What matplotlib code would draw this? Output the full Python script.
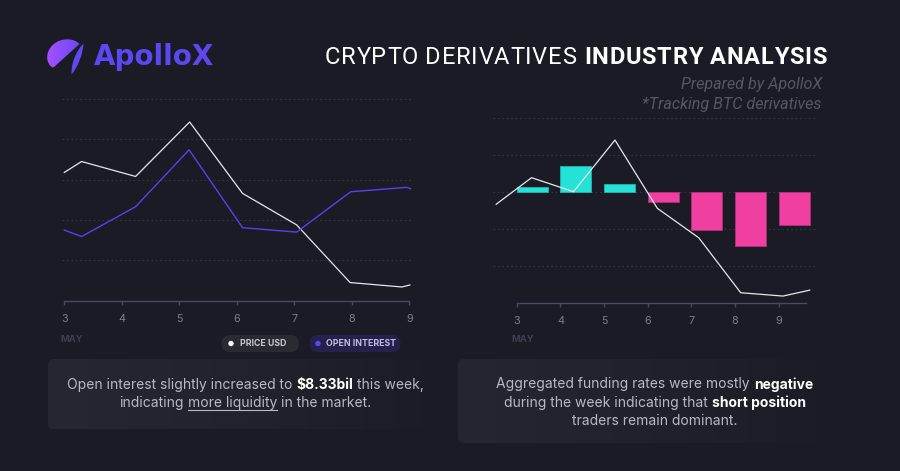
import matplotlib
matplotlib.use("Agg")
import matplotlib.pyplot as plt
import numpy as np
from matplotlib.patches import FancyBboxPatch, PathPatch, Circle
from matplotlib.path import Path
from matplotlib.colors import LinearSegmentedColormap

# ---------------- data ----------------
day_ticks = [3, 4, 5, 6, 7, 8, 9]
day_labels = ["3", "4", "5", "6", "7", "8", "9"]
month_label = "MAY"

# left chart (index units, no y labels shown)
price_x = [3.0, 3.30, 4.24, 5.18, 6.10, 7.04, 7.97, 8.87, 9.01]
price_y = [3.18, 3.45, 3.08, 4.43, 2.66, 1.88, 0.45, 0.34, 0.39]
oi_x = [3.0, 3.30, 4.24, 5.17, 6.10, 7.04, 7.98, 8.95, 9.02]
oi_y = [1.75, 1.59, 2.33, 3.74, 1.81, 1.70, 2.70, 2.81, 2.78]

# right chart
funding_days = [3, 4, 5, 6, 7, 8, 9]
funding_rate = [0.135, 0.70, 0.21, -0.27, -1.04, -1.47, -0.90]
price2_x = [2.53, 3.34, 4.30, 5.25, 6.22, 7.17, 8.13, 9.10, 9.71]
price2_y = [-0.33, 0.39, 0.01, 1.41, -0.44, -1.24, -2.73, -2.82, -2.66]

legend_labels = ["PRICE USD", "OPEN INTEREST"]
title_regular = "CRYPTO DERIVATIVES"
title_bold = "INDUSTRY ANALYSIS"
sub1 = "Prepared by ApolloX"
sub2 = "*Tracking BTC derivatives"
brand = "ApolloX"

# ---------------- style ----------------
BG = "#1b1b25"
GRID = "#363642"
SPINE = "#4a4a5e"
TICKC = "#7d7d88"
WHITE_LINE = "#e6e6ec"
PURPLE = "#5b3ff2"
CYAN = "#24e2d6"
PINK = "#ef3fa0"
TXT = "#b9b9c4"
BODY_FONT = ["Inter", "DejaVu Sans"]
TITLE_FONT = ["Roboto", "DejaVu Sans"]

W, H = 900, 471
fig = plt.figure(figsize=(W / 100, H / 100), dpi=100, facecolor=BG)
renderer = fig.canvas.get_renderer()

bg = fig.add_axes([0, 0, 1, 1], zorder=0)
bg.set_axis_off()
bg.set_facecolor(BG)


def px_rect(x0, y0, x1, y1):
    return [x0 / W, 1 - y1 / H, (x1 - x0) / W, (y1 - y0) / H]


def grad_box(x0, y0, x1, y1, colors, r):
    patch = FancyBboxPatch((x0, y0), x1 - x0, y1 - y0,
                           boxstyle=f"round,pad=0,rounding_size={r}",
                           facecolor="none", edgecolor="none")
    bg.add_patch(patch)
    grad = np.linspace(0, 1, 256).reshape(1, -1)
    cmap = LinearSegmentedColormap.from_list("g", colors)
    im = bg.imshow(grad, extent=(x0, x1, y1, y0), cmap=cmap, aspect="auto",
                   interpolation="bicubic", zorder=1)
    im.set_clip_path(patch)


def text_width(s, size, weight="normal", family=BODY_FONT, style="normal"):
    t = bg.text(0, 0, s, fontsize=size, fontweight=weight, family=family, fontstyle=style)
    w = t.get_window_extent(renderer).width
    t.remove()
    return w


def tracked_text(s, x, y, size, weight, color, family, track, align="left"):
    base = text_width("XX", size, weight, family)
    adv = [text_width("X" + c + "X", size, weight, family) - base for c in s]
    total = sum(adv) + track * (len(s) - 1)
    cx = x if align == "left" else x - total
    for c, a in zip(s, adv):
        if c != " ":
            bg.text(cx, y, c, fontsize=size, fontweight=weight, color=color, family=family,
                    va="center", ha="left", zorder=3)
        cx += a + track


def draw_line(segments, x, y, size, align="center", family=BODY_FONT):
    """segments: list of (text, weight, color, underline)"""
    sp = text_width("x x", size, family=family) - text_width("xx", size, family=family)
    items = []
    total = 0
    for s, wgt, col, ul in segments:
        lead = len(s) - len(s.lstrip(" "))
        trail = len(s) - len(s.rstrip(" "))
        core = s.strip(" ")
        w = text_width(core, size, wgt, family) if core else 0
        items.append((lead, core, wgt, col, ul, w, trail))
        total += lead * sp + w + trail * sp
    cx = x - total / 2 if align == "center" else x
    for lead, core, wgt, col, ul, w, trail in items:
        cx += lead * sp
        if core:
            bg.text(cx, y, core, fontsize=size, fontweight=wgt, color=col, family=family,
                    va="center", ha="left", zorder=5)
            if ul:
                bg.plot([cx, cx + w], [y + size * 0.75, y + size * 0.75], color=col, lw=0.8, zorder=5)
        cx += w + trail * sp


# ---------------- header ----------------
# logo body
body_path = Path(
    [(79.5, 44), (74, 38.5), (66, 38.5), (60, 40.5), (50, 44), (45, 54), (48, 62),
     (49.5, 65.5), (51.5, 67.5), (53.5, 67.5), (79.5, 44)],
    [Path.MOVETO, Path.CURVE4, Path.CURVE4, Path.CURVE4, Path.CURVE4, Path.CURVE4, Path.CURVE4,
     Path.CURVE4, Path.CURVE4, Path.CURVE4, Path.CLOSEPOLY])
body = PathPatch(body_path, facecolor="none", edgecolor="none")
bg.add_patch(body)
lg = bg.imshow(np.linspace(0, 1, 64).reshape(1, -1), extent=(46, 80, 68, 38),
               cmap=LinearSegmentedColormap.from_list("l", ["#a451ff", "#6c47f6"]),
               aspect="auto", interpolation="bicubic", zorder=2)
lg.set_clip_path(body)
blade = Path([(83.5, 43.5), (77, 50), (71, 62), (71.5, 74.5), (78.5, 66), (82.5, 55), (83.5, 43.5)],
             [Path.MOVETO, Path.CURVE4, Path.CURVE4, Path.CURVE4, Path.CURVE4, Path.CURVE4, Path.CURVE4])
bg.add_patch(PathPatch(blade, facecolor="#5e48f4", edgecolor="none", zorder=2))

bg.text(94, 57, brand, fontsize=20, fontweight="bold", color="#5b48f2",
        family=["DejaVu Sans"], va="center", ha="left", zorder=3)

tracked_text(title_regular, 325, 58, 17, "normal", "white", TITLE_FONT, 0.7, "left")
tracked_text(title_bold, 827, 58, 17, "bold", "white", TITLE_FONT, 0.75, "right")
bg.text(822, 84, sub1, fontsize=11.6, fontstyle="italic", color="#575763", family=TITLE_FONT,
        va="center", ha="right", zorder=3)
bg.text(822, 104, sub2, fontsize=11.6, fontstyle="italic", color="#575763", family=TITLE_FONT,
        va="center", ha="right", zorder=3)

# ---------------- text boxes ----------------
grad_box(48, 359, 452, 429.5, ["#272731", "#22222c", BG], 6)
grad_box(458, 359, 848, 443, ["#262631", "#21212b", BG], 6)

draw_line([("Open interest slightly increased to ", "normal", TXT, False),
           ("$8.33bil", "bold", "white", False),
           (" this week,", "normal", TXT, False)], 245.5, 385, 10)
draw_line([("indicating ", "normal", TXT, False),
           ("more liquidity", "normal", TXT, True),
           (" in the market.", "normal", TXT, False)], 245.5, 402.7, 10)

draw_line([("Aggregated funding rates were mostly ", "normal", TXT, False),
           ("negative", "bold", "white", False)], 654.7, 384.3, 10)
draw_line([("during the week indicating that ", "normal", TXT, False),
           ("short position", "bold", "white", False)], 654.7, 402.7, 10)
draw_line([("traders remain dominant.", "normal", TXT, False)], 654.7, 420.7, 10)

# ---------------- legend pills ----------------
bg.add_patch(FancyBboxPatch((221.5, 335), 77.5, 17, boxstyle="round,pad=0,rounding_size=8.5",
                            facecolor="#2a2a33", edgecolor="none", zorder=2))
bg.add_patch(FancyBboxPatch((309.5, 335), 91, 17, boxstyle="round,pad=0,rounding_size=8.5",
                            facecolor="#24214c", edgecolor="none", zorder=2))
bg.add_patch(Circle((231, 343.5), 2.7, facecolor="white", edgecolor="none", zorder=3))
bg.add_patch(Circle((318, 343.5), 2.7, facecolor="#5b45f6", edgecolor="none", zorder=3))
bg.text(240.5, 343.8, legend_labels[0], fontsize=6.3, fontweight="bold", color="#c6c6ce",
        family=BODY_FONT, va="center", ha="left", zorder=3)
bg.text(326.5, 343.8, legend_labels[1], fontsize=6.3, fontweight="bold", color="#c0bfe0",
        family=BODY_FONT, va="center", ha="left", zorder=3)

# month labels
bg.text(60.5, 340, month_label, fontsize=6.8, fontweight="bold", color="#3e3e54",
        family=BODY_FONT, va="center", ha="left", zorder=3)
bg.text(511, 339, month_label, fontsize=6.8, fontweight="bold", color="#3e3e54",
        family=BODY_FONT, va="center", ha="left", zorder=3)

bg.set_xlim(0, W)
bg.set_ylim(H, 0)


def style_axes(ax, xlim, ylim, grid_vals, bounds):
    ax.set_facecolor("none")
    ax.set_xlim(*xlim)
    ax.set_ylim(*ylim)
    for s in ["top", "right", "left"]:
        ax.spines[s].set_visible(False)
    ax.spines["bottom"].set_color(SPINE)
    ax.spines["bottom"].set_linewidth(1.0)
    ax.spines["bottom"].set_bounds(*bounds)
    ax.hlines(grid_vals, xlim[0], xlim[1], colors=GRID, linewidth=0.8,
              linestyles=(0, (1.5, 2.5)), clip_on=False, zorder=0)
    ax.set_yticks([])
    ax.set_xticks(day_ticks)
    ax.set_xticklabels(day_labels)
    ax.tick_params(axis="x", direction="out", length=3, width=1.0, color=SPINE,
                   labelcolor=TICKC, labelsize=7.8, pad=6.3)
    for lab in ax.get_xticklabels():
        lab.set_family(BODY_FONT)


# ---------------- left chart ----------------
axL = fig.add_axes(px_rect(62, 99, 413, 300.7), zorder=2)
style_axes(axL, (2.96, 9.064), (0, 5), [1, 2, 3, 4, 5], (3, 9))
axL.plot(price_x, price_y, color=WHITE_LINE, lw=0.9, zorder=3, clip_on=False)
axL.plot(oi_x, oi_y, color=PURPLE, lw=1.0, zorder=3, clip_on=False)

# ---------------- right chart ----------------
axR = fig.add_axes(px_rect(492.7, 118.3, 816, 302.7), zorder=2)
style_axes(axR, (2.45, 9.854), (-3.0, 2.0), [-2, -1, 0, 1, 2], (3, 9.62))
bar_colors = [CYAN if v > 0 else PINK for v in funding_rate]
edge_colors = ["#1fb5ac" if v > 0 else "#b0307a" for v in funding_rate]
axR.bar(funding_days, funding_rate, width=0.71, align="edge", color=bar_colors,
        edgecolor=edge_colors, linewidth=0.6, zorder=2)
axR.plot(price2_x, price2_y, color=WHITE_LINE, lw=0.9, zorder=3, clip_on=False)

fig.savefig("out.png", dpi=100, facecolor=BG)
